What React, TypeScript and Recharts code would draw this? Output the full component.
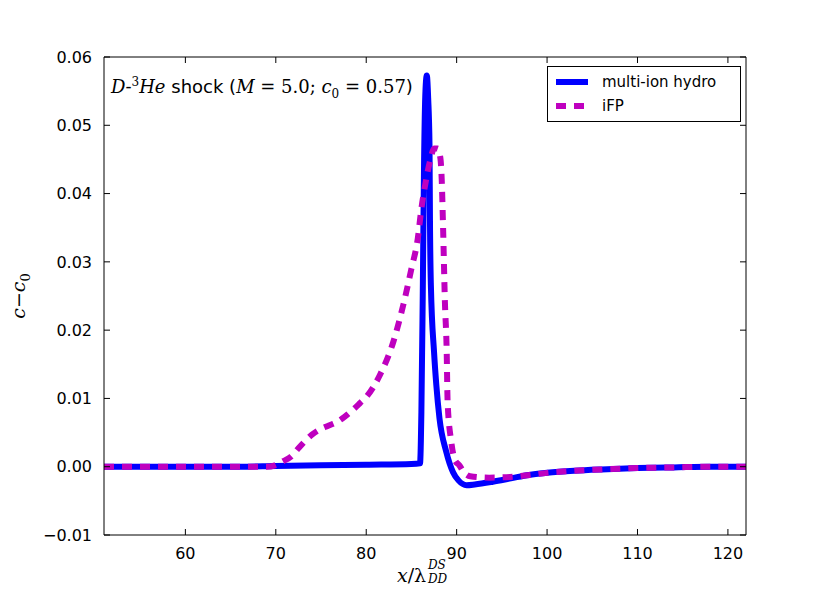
import React from "react";
import { LineChart, Line, XAxis, YAxis } from "recharts";

// multi-ion hydro (solid blue)
const hydroX = [51, 60, 66, 70, 75, 80, 85, 85.95, 86.1, 86.25, 86.4, 86.55, 86.7, 86.85, 87.0, 87.05, 87.15, 87.5, 87.75, 88.1, 88.85, 89.6, 90.2, 91.1, 92, 94, 96, 98, 100, 103, 106, 110, 114, 118, 122];
const hydroY = [0, 0, 0, 0.0001, 0.0002, 0.0003, 0.0004, 0.0005, 0.008, 0.025, 0.045, 0.055, 0.0573, 0.054, 0.047, 0.036, 0.0266, 0.0168, 0.012, 0.0071, 0.0022, -0.0008, -0.002, -0.0027, -0.0026, -0.0022, -0.0017, -0.0012, -0.0009, -0.0006, -0.0004, -0.0002, -0.0001, 0, 0];

// iFP (dashed magenta)
const ifpX = [51, 60, 69, 69.9, 70.8, 71.7, 72.5, 73.2, 74.0, 74.8, 75.8, 76.7, 77.6, 78.5, 79.3, 80.0, 81.5, 83.0, 84.1, 85.0, 85.7, 86.1, 86.65, 87.1, 87.5, 87.9, 88.2, 88.35, 88.5, 88.7, 88.9, 89.0, 89.4, 89.8, 90.3, 90.8, 91.5, 93.6, 95.9, 98.1, 100, 103, 106, 110, 114, 118, 122];
const ifpY = [0, 0, 0, 0.0002, 0.0008, 0.0015, 0.0027, 0.0037, 0.0047, 0.0054, 0.006, 0.0065, 0.0073, 0.0083, 0.0093, 0.0102, 0.0134, 0.0183, 0.0237, 0.029, 0.0334, 0.0378, 0.0422, 0.045, 0.0466, 0.0466, 0.0452, 0.042, 0.035, 0.0242, 0.0168, 0.0095, 0.0037, 0.001, 0.0002, -0.0008, -0.0014, -0.0016, -0.0015, -0.0012, -0.0009, -0.0006, -0.0004, -0.0002, -0.0001, 0, 0];

const xTicks = [60, 70, 80, 90, 100, 110, 120];
const yTicks = [-0.01, 0, 0.01, 0.02, 0.03, 0.04, 0.05, 0.06];

const hydroData = hydroX.map((x, i) => ({ x, y: hydroY[i] }));
const ifpData = ifpX.map((x, i) => ({ x, y: ifpY[i] }));

const BLUE = "#0000ff";
const MAGENTA = "#bf00bf";
const mathFont = "'DejaVu Serif', serif";
const TICK = 6;
const XMARGIN = 13;
const YMARGIN = 12;

const fmtY = (v: number) => (v < 0 ? "\u2212" + Math.abs(v).toFixed(2) : v.toFixed(2));

// inward ticks, matplotlib style
const BottomTick = (props: any) => {
  const { x, y, payload } = props;
  const axisY = y - XMARGIN;
  return (
    <g>
      <line x1={x} y1={axisY} x2={x} y2={axisY - TICK} stroke="#000" />
      <text x={x} y={y} dy="0.71em" textAnchor="middle" fontFamily="DejaVu Sans" fontSize={16} fill="#000">
        {payload.value}
      </text>
    </g>
  );
};

const LeftTick = (props: any) => {
  const { x, y, payload } = props;
  const axisX = x + YMARGIN;
  return (
    <g>
      <line x1={axisX} y1={y} x2={axisX + TICK} y2={y} stroke="#000" />
      <text x={x} y={y} dy="0.355em" textAnchor="end" fontFamily="DejaVu Sans" fontSize={16} fill="#000">
        {fmtY(payload.value)}
      </text>
    </g>
  );
};

const TopTick = (props: any) => {
  const { x, y } = props;
  return <line x1={x} y1={y} x2={x} y2={y + TICK} stroke="#000" />;
};

const RightTick = (props: any) => {
  const { x, y } = props;
  return <line x1={x} y1={y} x2={x - TICK} y2={y} stroke="#000" />;
};

export default function App() {
  return (
    <div style={{ position: "relative", width: 830, height: 593, background: "#fff" }}>
      <style>{"body{margin:0}"}</style>
      <LineChart width={830} height={593} margin={{ top: 56, right: 83, bottom: 0, left: 0 }}>
        <XAxis
          xAxisId="b"
          type="number"
          dataKey="x"
          domain={[51, 122]}
          ticks={xTicks}
          allowDataOverflow
          height={58}
          tickSize={0}
          tickMargin={XMARGIN}
          tickLine={false}
          tick={<BottomTick />}
          stroke="#000"
        />
        <XAxis
          xAxisId="t"
          orientation="top"
          type="number"
          dataKey="x"
          domain={[51, 122]}
          ticks={xTicks}
          allowDataOverflow
          height={1}
          tickSize={0}
          tickMargin={0}
          tickLine={false}
          tick={<TopTick />}
          stroke="#000"
        />
        <YAxis
          yAxisId="l"
          type="number"
          domain={[-0.01, 0.06]}
          ticks={yTicks}
          allowDataOverflow
          width={104}
          tickSize={0}
          tickMargin={YMARGIN}
          tickLine={false}
          tick={<LeftTick />}
          stroke="#000"
        />
        <YAxis
          yAxisId="r"
          orientation="right"
          type="number"
          domain={[-0.01, 0.06]}
          ticks={yTicks}
          allowDataOverflow
          width={1}
          tickSize={0}
          tickMargin={0}
          tickLine={false}
          tick={<RightTick />}
          stroke="#000"
        />
        <Line
          xAxisId="b"
          yAxisId="l"
          data={hydroData}
          dataKey="y"
          type="monotone"
          stroke={BLUE}
          strokeWidth={6}
          dot={false}
          isAnimationActive={false}
          name="multi-ion hydro"
        />
        <Line
          xAxisId="b"
          yAxisId="l"
          data={ifpData}
          dataKey="y"
          type="monotone"
          stroke={MAGENTA}
          strokeWidth={6}
          strokeDasharray="10 8"
          dot={false}
          isAnimationActive={false}
          name="iFP"
        />
      </LineChart>

      {/* legend */}
      <div
        style={{
          position: "absolute",
          left: 547,
          top: 66,
          width: 194,
          height: 56,
          border: "1.5px solid #000",
          background: "#fff",
          padding: "3px 8px",
          fontFamily: "DejaVu Sans",
          fontSize: 15,
          boxSizing: "border-box",
        }}
      >
        <div style={{ display: "flex", alignItems: "center", height: 24 }}>
          <svg width={32} height={8} style={{ marginRight: 14 }}>
            <line x1={0} y1={4} x2={32} y2={4} stroke={BLUE} strokeWidth={6} />
          </svg>
          multi-ion hydro
        </div>
        <div style={{ display: "flex", alignItems: "center", height: 24 }}>
          <svg width={32} height={8} style={{ marginRight: 14 }}>
            <line x1={0} y1={4} x2={32} y2={4} stroke={MAGENTA} strokeWidth={6} strokeDasharray="10 8" />
          </svg>
          iFP
        </div>
      </div>

      {/* annotation */}
      <div
        style={{
          position: "absolute",
          left: 111,
          top: 72,
          fontSize: 18,
          lineHeight: "20px",
          fontFamily: "DejaVu Sans",
          whiteSpace: "nowrap",
        }}
      >
        <span style={{ fontFamily: mathFont, fontStyle: "italic" }}>D</span>
        <span style={{ fontFamily: mathFont }}>-</span>
        <sup style={{ fontFamily: mathFont, fontSize: 12 }}>3</sup>
        <span style={{ fontFamily: mathFont, fontStyle: "italic" }}>He</span> shock (
        <span style={{ fontFamily: mathFont }}>
          <i>M</i> = 5.0; <i>c</i>
          <sub style={{ fontSize: 12 }}>0</sub> = 0.57
        </span>
        )
      </div>

      {/* y label */}
      <div
        style={{
          position: "absolute",
          left: 20,
          top: 296,
          transform: "translate(-50%, -50%) rotate(-90deg)",
          fontFamily: mathFont,
          fontSize: 19,
          whiteSpace: "nowrap",
        }}
      >
        <i>c</i>{"\u2212"}<i>c</i>
        <sub style={{ fontSize: 13 }}>0</sub>
      </div>

      {/* x label */}
      <div
        style={{
          position: "absolute",
          left: 397,
          top: 558,
          width: 70,
          height: 32,
          fontFamily: mathFont,
          fontSize: 19,
          whiteSpace: "nowrap",
        }}
      >
        <span style={{ position: "absolute", left: 0, top: 6 }}>
          <i>x</i>/λ
        </span>
        <span style={{ position: "absolute", left: 31, top: 0, fontSize: 12, fontStyle: "italic" }}>DS</span>
        <span style={{ position: "absolute", left: 31, top: 14, fontSize: 12, fontStyle: "italic" }}>DD</span>
      </div>
    </div>
  );
}
